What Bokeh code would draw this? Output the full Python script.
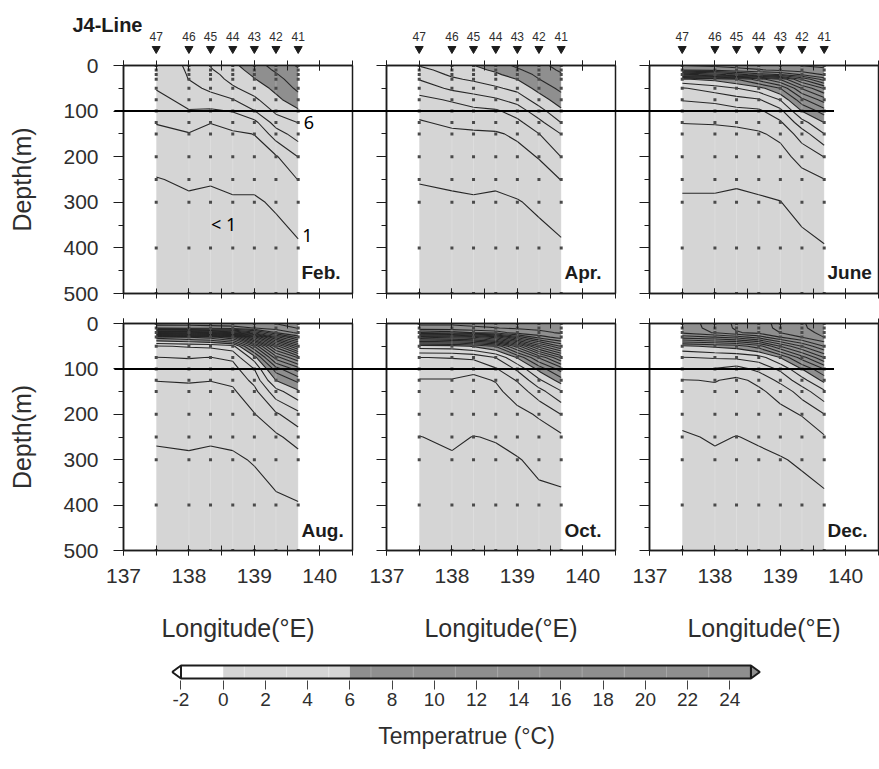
import numpy as np
from bokeh.plotting import figure
from bokeh.models import (Range1d, LinearAxis, SingleIntervalTicker, FixedTicker, GridBox)
from bokeh.core.properties import value
from bokeh.embed import file_html
from bokeh.resources import INLINE

# ---------------------------------------------------------------- data
STATIONS = ["47", "46", "45", "44", "43", "42", "41"]
STATION_LON = [137.5, 138.0, 138.33, 138.67, 139.0, 139.33, 139.67]
DEPTHS = [0, 10, 20, 30, 50, 75, 100, 125, 150, 200, 250, 300, 400, 500]

# Temperature profiles (deg C) at the standard depths, one list per station
FEB = {
    "47": [3.6, 3.5, 3.4, 3.3, 3.05, 2.7, 2.35, 2.03, 1.85, 1.4, 0.95, 0.75, 0.5, 0.35],
    "46": [4.1, 4.08, 4.05, 4.02, 3.7, 3.3, 2.95, 2.4, 1.95, 1.55, 1.15, 0.85, 0.55, 0.4],
    "45": [5.05, 4.9, 4.7, 4.5, 4.2, 3.6, 2.85, 2.02, 1.8, 1.45, 1.08, 0.8, 0.55, 0.4],
    "44": [5.8, 5.6, 5.4, 5.3, 4.85, 3.95, 3.05, 2.4, 1.85, 1.5, 1.2, 0.9, 0.6, 0.4],
    "43": [6.5, 6.35, 6.15, 5.95, 5.45, 4.8, 3.95, 2.7, 2.02, 1.6, 1.2, 0.9, 0.6, 0.45],
    "42": [7.4, 7.15, 6.9, 6.65, 6.25, 5.75, 5.2, 4.45, 3.5, 1.9, 1.45, 1.1, 0.7, 0.5],
    "41": [8.1, 7.9, 7.8, 7.6, 7.2, 6.6, 5.85, 5.02, 4.5, 3.02, 2.02, 1.6, 0.85, 0.5],
}
APR = {
    "47": [5.05, 4.7, 4.4, 4.05, 3.4, 2.75, 2.3, 1.9, 1.75, 1.45, 1.05, 0.8, 0.55, 0.4],
    "46": [5.6, 5.4, 5.15, 4.85, 4.2, 3.1, 2.6, 2.2, 1.8, 1.5, 1.15, 0.85, 0.55, 0.4],
    "45": [5.98, 5.75, 5.45, 5.15, 4.5, 3.5, 2.75, 2.3, 1.85, 1.55, 1.2, 0.9, 0.6, 0.4],
    "44": [6.5, 6.15, 5.85, 5.5, 4.85, 3.85, 2.85, 2.35, 1.9, 1.55, 1.15, 0.85, 0.6, 0.4],
    "43": [7.2, 6.85, 6.4, 6.02, 5.3, 4.4, 3.45, 2.75, 2.15, 1.7, 1.3, 0.95, 0.65, 0.45],
    "42": [7.75, 7.5, 7.25, 6.98, 6.35, 5.5, 4.6, 3.7, 2.98, 2.05, 1.6, 1.15, 0.7, 0.5],
    "41": [8.3, 8.15, 7.9, 7.7, 7.25, 6.55, 5.8, 5.02, 4.02, 3.02, 2.02, 1.5, 0.85, 0.55],
}
JUN = {
    "47": [17.0, 16.02, 11.5, 5.9, 3.9, 3.05, 2.5, 2.02, 1.8, 1.45, 1.15, 0.9, 0.6, 0.4],
    "46": [17.2, 16.3, 12.5, 6.3, 4.5, 3.2, 2.6, 2.05, 1.8, 1.45, 1.15, 0.9, 0.6, 0.4],
    "45": [17.4, 16.6, 13.5, 7.02, 4.98, 3.6, 2.7, 2.1, 1.85, 1.5, 1.1, 0.85, 0.6, 0.4],
    "44": [17.6, 16.9, 14.5, 8.5, 5.6, 3.9, 2.8, 2.3, 1.9, 1.55, 1.2, 0.9, 0.6, 0.4],
    "43": [17.8, 17.2, 15.02, 10.1, 7.02, 5.05, 3.7, 2.85, 2.2, 1.7, 1.3, 0.98, 0.65, 0.45],
    "42": [18.02, 17.5, 16.1, 13.1, 10.1, 7.7, 6.02, 4.6, 3.5, 2.3, 1.7, 1.3, 0.75, 0.5],
    "41": [18.2, 17.8, 17.1, 15.5, 12.1, 9.5, 7.5, 6.02, 4.98, 3.02, 1.98, 1.5, 0.95, 0.6],
}
AUG = {
    "47": [25.5, 24.1, 17.1, 7.5, 3.9, 2.98, 2.45, 2.02, 1.8, 1.45, 1.1, 0.85, 0.55, 0.4],
    "46": [25.5, 24.2, 17.5, 8.02, 4.1, 3.05, 2.5, 2.05, 1.85, 1.5, 1.15, 0.9, 0.6, 0.4],
    "45": [25.6, 24.3, 18.02, 8.5, 4.2, 2.98, 2.45, 2.02, 1.8, 1.5, 1.1, 0.85, 0.55, 0.4],
    "44": [25.7, 24.5, 19.02, 10.02, 4.6, 3.2, 2.6, 2.2, 1.85, 1.5, 1.15, 0.9, 0.6, 0.4],
    "43": [25.8, 25.02, 21.5, 15.5, 9.02, 5.5, 4.02, 3.3, 2.7, 1.95, 1.45, 1.05, 0.7, 0.45],
    "42": [26.02, 25.5, 24.02, 20.5, 14.5, 10.5, 7.5, 6.02, 4.6, 2.85, 1.8, 1.35, 0.85, 0.55],
    "41": [26.2, 26.05, 25.3, 23.5, 18.5, 13.1, 9.5, 7.3, 5.8, 3.7, 2.45, 1.6, 0.95, 0.6],
}
OCT = {
    "47": [21.1, 20.8, 18.1, 12.1, 5.5, 2.98, 2.4, 1.95, 1.7, 1.4, 0.98, 0.8, 0.55, 0.4],
    "46": [21.1, 20.8, 18.5, 12.5, 5.6, 3.05, 2.4, 1.95, 1.75, 1.45, 1.15, 0.9, 0.6, 0.4],
    "45": [21.15, 20.9, 19.1, 13.1, 6.1, 3.2, 2.2, 1.8, 1.65, 1.4, 0.98, 0.8, 0.55, 0.4],
    "44": [21.2, 20.98, 19.5, 14.5, 7.1, 4.02, 2.9, 2.05, 1.8, 1.45, 1.05, 0.85, 0.55, 0.4],
    "43": [21.3, 21.1, 20.5, 17.5, 10.5, 6.1, 4.2, 3.1, 2.4, 1.75, 1.3, 0.95, 0.65, 0.45],
    "42": [21.4, 21.2, 20.8, 19.5, 14.5, 9.1, 6.3, 4.8, 3.6, 2.1, 1.6, 1.2, 0.75, 0.5],
    "41": [21.5, 21.4, 21.1, 20.5, 17.1, 12.1, 8.5, 6.5, 4.9, 3.02, 1.8, 1.3, 0.8, 0.55],
}
DEC = {
    "47": [12.5, 12.45, 12.2, 10.5, 5.8, 3.95, 3.02, 1.95, 1.75, 1.3, 0.88, 0.72, 0.5, 0.35],
    "46": [13.4, 13.35, 13.1, 11.02, 6.2, 4.1, 2.95, 2.05, 1.8, 1.45, 1.1, 0.85, 0.55, 0.4],
    "45": [14.2, 14.15, 13.9, 11.5, 6.5, 4.2, 2.6, 1.8, 1.65, 1.35, 0.98, 0.8, 0.55, 0.4],
    "44": [14.6, 14.55, 14.3, 12.5, 7.5, 4.5, 3.3, 2.2, 1.85, 1.45, 1.1, 0.85, 0.55, 0.4],
    "43": [15.3, 15.25, 15.02, 14.02, 10.02, 6.02, 4.2, 3.3, 2.3, 1.75, 1.25, 0.95, 0.65, 0.45],
    "42": [15.9, 15.85, 15.6, 15.02, 12.02, 8.5, 6.02, 4.6, 3.5, 2.05, 1.5, 1.1, 0.7, 0.5],
    "41": [16.5, 16.45, 16.3, 16.02, 14.02, 11.02, 8.02, 6.3, 4.8, 2.98, 1.9, 1.35, 0.8, 0.55],
}
SECTIONS = [("Feb.", FEB), ("Apr.", APR), ("June", JUN),
            ("Aug.", AUG), ("Oct.", OCT), ("Dec.", DEC)]

LEVELS = list(range(-2, 28))          # 1 deg C contour interval
CB_BOUNDS = [-2, 0, 1, 3, 5, 6, 7, 9, 11, 13, 15, 17, 19, 21, 23, 25]
CB_TICKS = list(range(-2, 25, 2))

# ---------------------------------------------------------------- style
INK = "#1c1c1c"
TXT = "#2e2e2e"
COLD, MID, WARM = "#ffffff", "#d5d5d5", "#8f8f8f"
FONT_NAME = "Liberation Sans"
FONT = value(FONT_NAME)


def shade(upper):
    if upper <= 0:
        return COLD
    if upper <= 6:
        return MID
    return WARM


FILLS = [shade(hi) for hi in LEVELS[1:]]

LON_MIN, LON_MAX = 137.0, 140.5
DEPTH_MAX = 500
TOTAL_W = 879
FRAME_LEFT = [123, 386, 649]
FRAME_W = 229
COL_EDGE = [0, 369, 632, 879]
ROW_EDGE = [0, 308, 650, 769]
ROW_TOP = [65, 323]
FRAME_H = [228, 227]
PPD = FRAME_W / (LON_MAX - LON_MIN)

COMMON = dict(output_backend="svg", toolbar_location=None, frame_align=False)


def lon_px(col, lon):
    return FRAME_LEFT[col] + (lon - LON_MIN) * PPD


def blank(ticks):
    return {t: "" for t in ticks}


def style_title(ax, text, size):
    ax.axis_label = text
    ax.axis_label_text_font = FONT_NAME
    ax.axis_label_text_font_size = size
    ax.axis_label_text_font_style = "normal"
    ax.axis_label_text_color = TXT


def lon_axis(labelled, title=None):
    ax = LinearAxis(ticker=SingleIntervalTicker(interval=1, num_minor_ticks=2),
                    axis_line_color=INK, axis_line_width=1.5,
                    major_tick_line_color=INK, minor_tick_line_color=INK,
                    major_tick_in=5, major_tick_out=5, minor_tick_in=5, minor_tick_out=5,
                    major_label_text_font=FONT_NAME, major_label_text_color=TXT)
    if labelled:
        ax.major_label_text_font_size = "21px"
        ax.major_label_standoff = 13
    else:
        ax.major_label_overrides = blank([137, 138, 139, 140])
        ax.major_label_text_font_size = "1px"
        ax.major_label_standoff = 0
    if title:
        style_title(ax, title, "25px")
        ax.axis_label_standoff = 28
    return ax


def depth_axis(labelled):
    ax = LinearAxis(ticker=SingleIntervalTicker(interval=100, num_minor_ticks=2),
                    axis_line_color=INK, axis_line_width=1.5,
                    major_tick_line_color=INK, minor_tick_line_color=INK,
                    major_tick_in=0, major_tick_out=10, minor_tick_in=0, minor_tick_out=5,
                    major_label_text_font=FONT_NAME, major_label_text_color=TXT)
    if labelled:
        ax.major_label_text_font_size = "21px"
        ax.major_label_standoff = 15
        style_title(ax, "Depth(m)", "25px")
        ax.axis_label_standoff = 24
    else:
        ax.major_label_overrides = blank(list(range(0, 600, 100)))
        ax.major_label_text_font_size = "1px"
        ax.major_label_standoff = 0
    return ax


def make_panel(r, c, month, prof):
    w = COL_EDGE[c + 1] - COL_EDGE[c]
    h = ROW_EDGE[r + 1] - ROW_EDGE[r]
    bl = FRAME_LEFT[c] - COL_EDGE[c]
    bt = ROW_TOP[r] - ROW_EDGE[r]
    p = figure(width=w, height=h,
               x_range=Range1d(LON_MIN, LON_MAX), y_range=Range1d(DEPTH_MAX, 0),
               x_axis_location=None, y_axis_location=None,
               min_border_left=bl, min_border_right=w - bl - FRAME_W,
               min_border_top=bt, min_border_bottom=h - bt - FRAME_H[r],
               background_fill_color="white", border_fill_color="white",
               outline_line_color=INK, outline_line_width=1.5, **COMMON)
    p.xgrid.visible = False
    p.ygrid.visible = False

    z = np.array([prof[s] for s in STATIONS]).T
    p.contour(x=STATION_LON, y=DEPTHS, z=z, levels=LEVELS, fill_color=FILLS,
              line_color="#262626", line_width=1.1)

    # faint interpolation mesh along each station cast
    p.segment(x0=STATION_LON, y0=0, x1=STATION_LON, y1=DEPTH_MAX,
              line_color="white", line_alpha=0.2, line_width=1)

    gx = [lon for _ in DEPTHS for lon in STATION_LON]
    gy = [d for d in DEPTHS for _ in STATION_LON]
    p.scatter(x=gx, y=gy, marker="square", size=3, color="#4a4a4a", line_color=None)

    p.text(x=[139.72], y=[455], text=[month], text_font=FONT, text_font_style="bold",
           text_font_size="19px", text_color=INK, text_baseline="middle", text_align="left")

    p.add_layout(lon_axis(False), "above")
    p.add_layout(lon_axis(r == 1, "Longitude(°E)" if r == 1 else None), "below")
    p.add_layout(depth_axis(c == 0), "left")
    return p


panels = []
for i, (month, prof) in enumerate(SECTIONS):
    r, c = divmod(i, 3)
    panels.append((make_panel(r, c, month, prof), r, c))

# isotherm annotations in the February section
feb = panels[0][0]
feb.text(x=[139.835, 139.81, 138.53], y=[124, 372, 348], text=["6", "1", "< 1"],
         text_font=value("Noto Sans"), text_font_size="18px", text_color="black",
         text_align="center", text_baseline="middle")

# ---------------------------------------------------------------- overlay
OV_H = ROW_EDGE[2]


def row_range(r):
    ppm = FRAME_H[r] / DEPTH_MAX
    return Range1d(start=(OV_H - ROW_TOP[r]) / ppm, end=-ROW_TOP[r] / ppm)


def col_range(c):
    start = LON_MIN - FRAME_LEFT[c] / PPD
    return Range1d(start=start, end=start + TOTAL_W / PPD)


ov = figure(width=TOTAL_W, height=OV_H, x_range=Range1d(0, TOTAL_W), y_range=row_range(0),
            x_axis_type=None, y_axis_type=None, min_border=0,
            background_fill_color=None, border_fill_color=None, outline_line_color=None,
            **COMMON)
ov.extra_x_ranges = {f"c{c}": col_range(c) for c in range(3)}
ov.extra_y_ranges = {"r1": row_range(1)}

MARK_DEPTH, LABEL_DEPTH, REF_DEPTH = -36.5, -64, 100
for c in range(3):
    ov.scatter(x=STATION_LON, y=[MARK_DEPTH] * len(STATIONS), marker="inverted_triangle",
               size=8, color=INK, x_range_name=f"c{c}")
    ov.text(x=STATION_LON, y=[LABEL_DEPTH] * len(STATIONS), text=STATIONS,
            x_range_name=f"c{c}", text_font=FONT, text_font_size="12px", text_color=TXT,
            text_align="center", text_baseline="middle")

ref_x0, ref_x1 = lon_px(0, 136.86), lon_px(2, 139.82)
for yname in ("default", "r1"):
    ov.segment(x0=[ref_x0], y0=[REF_DEPTH], x1=[ref_x1], y1=[REF_DEPTH],
               y_range_name=yname, line_color="black", line_width=2)

ov.text(x=[136.22], y=[-88], text=["J4-Line"], x_range_name="c0", text_font=FONT,
        text_font_style="bold", text_font_size="20px", text_color=INK,
        text_baseline="alphabetic", text_align="left")

# ---------------------------------------------------------------- colour bar
CB_TIP = 0.42
cb = figure(width=TOTAL_W, height=ROW_EDGE[3] - ROW_EDGE[2],
            x_range=Range1d(CB_BOUNDS[0] - 0.45, CB_BOUNDS[-1] + 0.5), y_range=Range1d(-0.15, 1.15),
            x_axis_location=None, y_axis_location=None,
            min_border_left=171, min_border_right=118, min_border_top=13, min_border_bottom=89,
            background_fill_color=None, border_fill_color="white", outline_line_color=None,
            **COMMON)
cb.xgrid.visible = False
cb.ygrid.visible = False
cb.quad(left=CB_BOUNDS[:-1], right=CB_BOUNDS[1:], bottom=0, top=1,
        fill_color=[shade(hi) for hi in CB_BOUNDS[1:]], line_color=None)
light_sep = [b for b in CB_BOUNDS[1:-1] if 0 < b < 6]
dark_sep = [b for b in CB_BOUNDS[1:-1] if b > 6]
cb.segment(x0=light_sep, y0=0, x1=light_sep, y1=1, line_color="#e6e6e6", line_width=1)
cb.segment(x0=dark_sep, y0=0, x1=dark_sep, y1=1, line_color="#a6a6a6", line_width=1)
lo, hi = CB_BOUNDS[0], CB_BOUNDS[-1]
cb.patches(xs=[[lo, lo - CB_TIP, lo], [hi, hi + CB_TIP, hi]], ys=[[0, 0.5, 1], [0, 0.5, 1]],
           fill_color=[COLD, WARM], line_color=INK, line_width=2)
cb.quad(left=[lo], right=[hi], bottom=[0], top=[1], fill_color=None, line_color=INK, line_width=2)
cax = LinearAxis(ticker=FixedTicker(ticks=CB_TICKS), axis_line_color=None,
                 major_tick_line_color="#444444", major_tick_in=0, major_tick_out=9,
                 minor_tick_line_color=None,
                 major_label_overrides={t: f"{t:d}" for t in CB_TICKS},
                 major_label_text_font=FONT_NAME, major_label_text_font_size="19px",
                 major_label_text_color=TXT, major_label_standoff=3)
style_title(cax, "Temperatrue (°C)", "23px")
cax.axis_label_standoff = 14
cb.add_layout(cax, "below")

children = list(panels) + [(cb, 2, 0, 1, 3), (ov, 0, 0, 2, 3)]
layout = GridBox(children=children)

open("out.html", "w").write(file_html(layout, INLINE))
